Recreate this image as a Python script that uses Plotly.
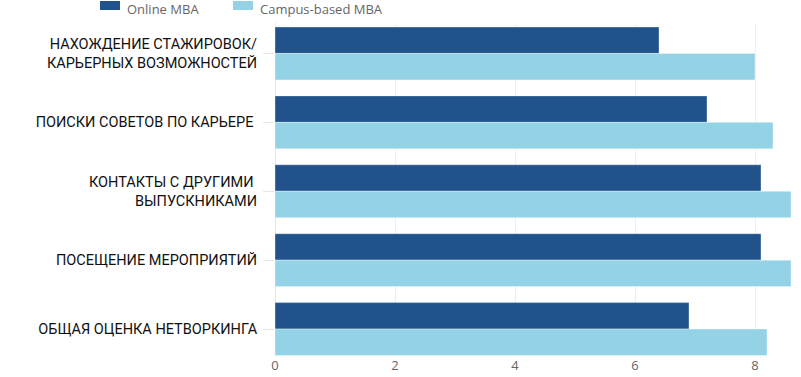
import plotly.graph_objects as go

categories = [
    "НАХОЖДЕНИЕ СТАЖИРОВОК/<br>КАРЬЕРНЫХ ВОЗМОЖНОСТЕЙ",
    "ПОИСКИ СОВЕТОВ ПО КАРЬЕРЕ\u00a0",
    "КОНТАКТЫ С ДРУГИМИ\u00a0<br>ВЫПУСКНИКАМИ",
    "ПОСЕЩЕНИЕ МЕРОПРИЯТИЙ",
    "ОБЩАЯ ОЦЕНКА НЕТВОРКИНГА",
]
online_mba = [6.4, 7.2, 8.1, 8.1, 6.9]
campus_mba = [8.0, 8.3, 8.6, 8.6, 8.2]
series_names = ["Online MBA", "Campus-based MBA"]
x_ticks = [0, 2, 4, 6, 8]

dark = "#20538B"
light = "#94D3E6"

W, H = 801, 377
PL, PR, PT, PB = 275, 797, 23, 356  # plot area in figure px
pw, ph = PR - PL, PB - PT

fig = go.Figure()
fig.add_trace(go.Bar(y=categories, x=online_mba, name=series_names[0], orientation="h",
                     marker=dict(color=dark, line=dict(color="rgba(255,255,255,0.35)", width=1))))
fig.add_trace(go.Bar(y=categories, x=campus_mba, name=series_names[1], orientation="h",
                     marker=dict(color=light, line=dict(color="rgba(255,255,255,0.35)", width=1))))

# custom legend (swatch + text) at top
legend_font = dict(family="Open Sans, sans-serif", size=13, color="#666666")
for i, (nm, col) in enumerate(zip(series_names, [dark, light])):
    x0 = 100 + i * 133
    yc = 6
    fig.add_shape(type="rect", xref="paper", yref="paper",
                  x0=(x0 - PL) / pw, x1=(x0 + 20 - PL) / pw,
                  y0=(PB - (yc + 4)) / ph, y1=(PB - (yc - 5)) / ph,
                  fillcolor=col, line=dict(width=0))
    fig.add_annotation(xref="paper", yref="paper", x=(x0 + 26 - PL) / pw, y=(PB - 9) / ph,
                       text=nm, showarrow=False, xanchor="left", yanchor="middle",
                       font=legend_font, borderpad=0)

fig.update_layout(
    width=W, height=H,
    margin=dict(l=PL, r=W - PR, t=PT, b=H - PB, pad=0),
    paper_bgcolor="white", plot_bgcolor="white",
    barmode="group", bargap=0.232, bargroupgap=0,
    showlegend=False,
    xaxis=dict(range=[0, 8.7], tickvals=x_ticks, showgrid=True, gridcolor="#eeeeee", gridwidth=1,
               zeroline=True, zerolinecolor="#e6e6e6", zerolinewidth=1, automargin=False,
               tickfont=dict(family="Open Sans, sans-serif", size=13, color="#666666"),
               showline=False, ticks="", ticklabelstandoff=0),
    yaxis=dict(type="category", categoryarray=categories, range=[4.391, -0.442], automargin=False,
               ticks="outside", ticklen=11, tickcolor="#e6e6e6", tickwidth=1, ticklabelstandoff=3,
               tickfont=dict(family="Roboto, sans-serif", size=14.5, color="#111111"),
               showgrid=False, zeroline=False, showline=False),
)

fig.write_html("out.html", config={"displayModeBar": False},
               post_script="document.body.style.margin='0';document.body.style.overflow='hidden';")
